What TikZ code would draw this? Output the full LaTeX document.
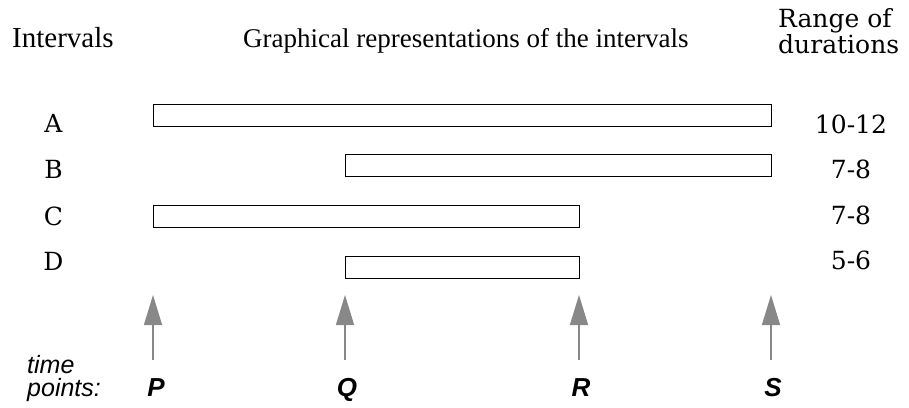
\documentclass[tikz,border=0pt]{standalone}
\usepackage{fontspec}
\setmainfont{Liberation Serif}
\newfontfamily\schfont{DejaVu Serif}
\newfontfamily\helv{Liberation Sans}
\usetikzlibrary{arrows.meta}
\definecolor{arrgray}{RGB}{136,136,136}
\begin{document}
\begin{tikzpicture}[x=1pt,y=-1pt,
  bar/.style={draw=black, line width=1.2pt, fill=white, inner sep=0pt, minimum height=22pt, anchor=north west},
  hdr/.style={inner sep=0pt, anchor=base west},
  rng/.style={inner sep=0pt, anchor=base west, align=left, font=\schfont\fontsize{25}{20}\selectfont},
  lbl/.style={inner sep=0pt, anchor=base, font=\schfont\fontsize{25}{28}\selectfont},
  tpt/.style={inner sep=0pt, anchor=base, font=\helv\bfseries\itshape\fontsize{26}{28}\selectfont},
  tlab/.style={inner sep=0pt, anchor=base west, align=left, font=\helv\itshape\fontsize{25}{23}\selectfont},
  timearrow/.style={draw=arrgray, line width=1.5pt, -{Triangle[length=30pt,width=18pt]}}
]
\useasboundingbox[fill=white] (0,0) rectangle (909,407);

% headers
\node[hdr, font=\fontsize{29}{30}\selectfont] (hInt) at (12,47) {Intervals};
\node[hdr, font=\fontsize{27}{30}\selectfont] (hGr) at (243,47) {Graphical representations of the intervals};
\node[rng] (hR) at (778,53) {Range of\\durations};

% interval labels
\node[lbl] (lA) at (53.5,132) {A};
\node[lbl] (lB) at (53.5,178) {B};
\node[lbl] (lC) at (53.5,225) {C};
\node[lbl] (lD) at (53.5,270) {D};

% bars
\node[bar, minimum width=618pt] (barA) at (153,104) {};
\node[bar, minimum width=426pt] (barB) at (345,154) {};
\node[bar, minimum width=426pt] (barC) at (153,205) {};
\node[bar, minimum width=234pt] (barD) at (345,256) {};

% ranges
\node[lbl] (rA) at (851,133) {10-12};
\node[lbl] (rB) at (851,178) {7-8};
\node[lbl] (rC) at (851,224) {7-8};
\node[lbl] (rD) at (851,269) {5-6};

% time point arrows
\coordinate (Pb) at (153,360); \coordinate (Pt) at (153,295);
\coordinate (Qb) at (345,360); \coordinate (Qt) at (345,295);
\coordinate (Rb) at (579,360); \coordinate (Rt) at (579,295);
\coordinate (Sb) at (771,360); \coordinate (St) at (771,295);
\draw[timearrow] (Pb) -- (Pt);
\draw[timearrow] (Qb) -- (Qt);
\draw[timearrow] (Rb) -- (Rt);
\draw[timearrow] (Sb) -- (St);

\node[tlab] (tl) at (27,396) {time\\points:};
\node[tpt] (tP) at (156,396) {P};
\node[tpt] (tQ) at (347,396) {Q};
\node[tpt] (tR) at (581,396) {R};
\node[tpt] (tS) at (773,396) {S};
\end{tikzpicture}
\end{document}
